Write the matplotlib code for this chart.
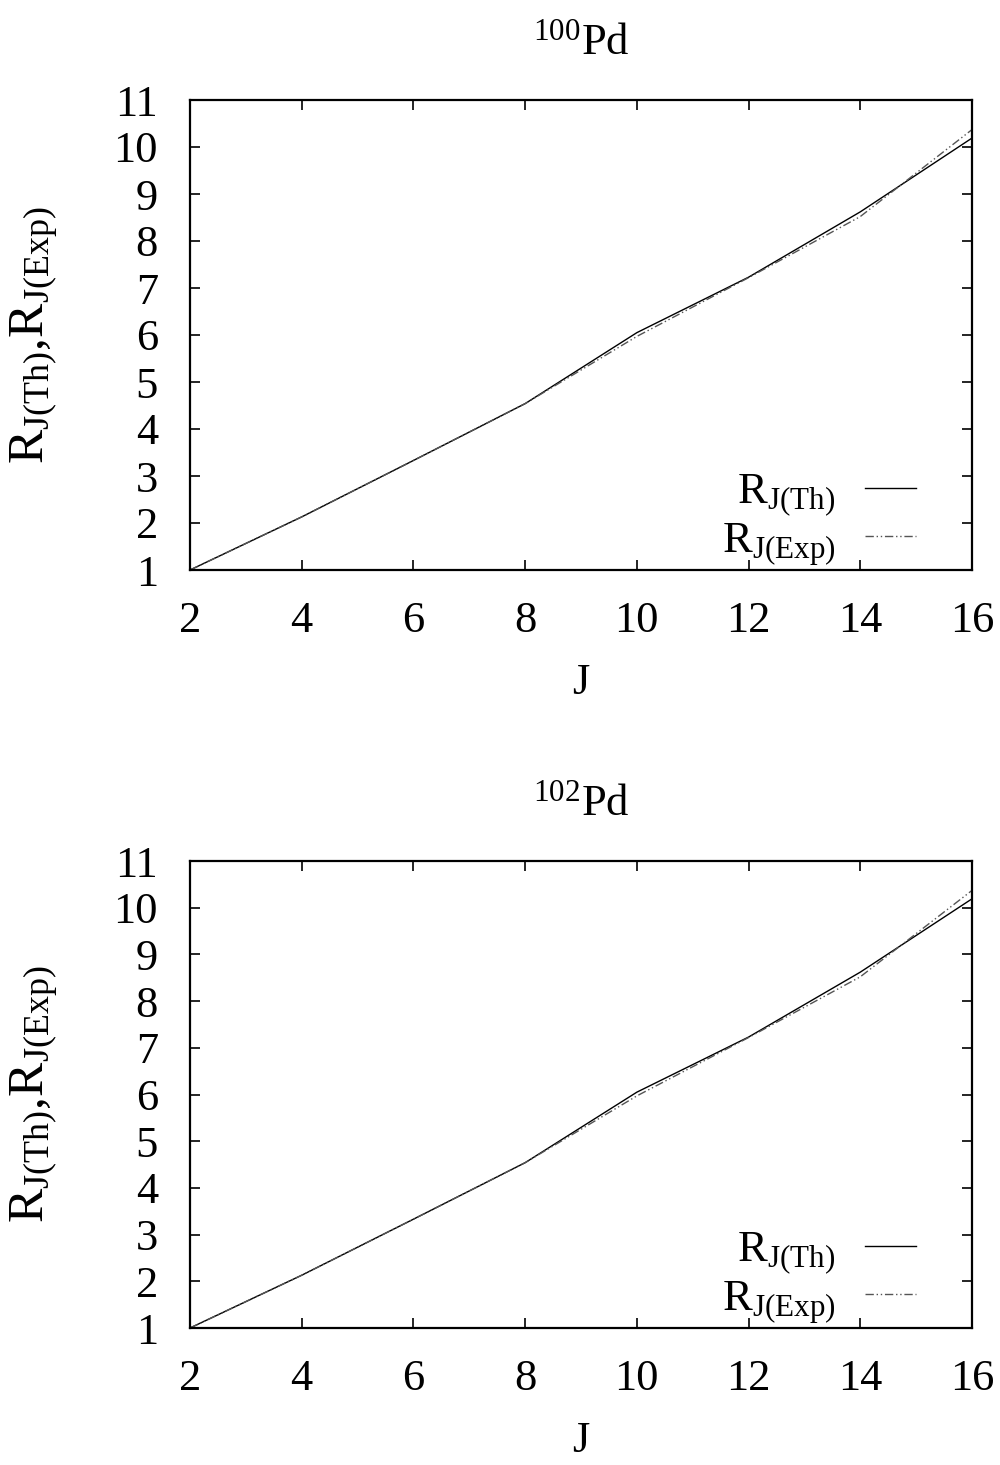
import numpy as np
import matplotlib
matplotlib.use("Agg")
import matplotlib.pyplot as plt

plt.rcParams['font.family'] = ['Liberation Serif', 'DejaVu Serif']
plt.rcParams['mathtext.fontset'] = 'custom'
plt.rcParams['mathtext.rm'] = 'Liberation Serif'
plt.rcParams['mathtext.it'] = 'Liberation Serif'
plt.rcParams['mathtext.bf'] = 'Liberation Serif'

# spin values and energy ratios R_J = E(J)/E(2)
J = [2, 4, 6, 8, 10, 12, 14, 16]
r_th_100 = [1.0, 2.13, 3.33, 4.54, 6.05, 7.23, 8.62, 10.19]
r_exp_100 = [1.0, 2.13, 3.33, 4.54, 5.97, 7.22, 8.52, 10.37]
r_th_102 = [1.0, 2.13, 3.33, 4.54, 6.05, 7.23, 8.62, 10.19]
r_exp_102 = [1.0, 2.13, 3.33, 4.54, 5.97, 7.22, 8.52, 10.37]

titles = [r'$^{100}$Pd', r'$^{102}$Pd']
panels = [(r_th_100, r_exp_100), (r_th_102, r_exp_102)]

fig = plt.figure(figsize=(10, 14.65), dpi=100)
# axes boxes in figure fraction: left, bottom, width, height
boxes = [[0.190, 1 - 570 / 1465, 0.782, 470 / 1465],
         [0.190, 1 - 1328 / 1465, 0.782, 467 / 1465]]

fs = 32
for box, title, (th, ex) in zip(boxes, titles, panels):
    ax = fig.add_axes(box)
    ax.plot(J, th, color='black', lw=1.0, label=r'R$_{\mathrm{J(Th)}}$')
    ax.plot(J, ex, color='#555555', lw=1.0, linestyle=(0, (6, 2, 1, 2, 1, 2)),
            label=r'R$_{\mathrm{J(Exp)}}$')
    ax.set_xlim(2, 16)
    ax.set_ylim(1, 11)
    ax.set_xticks(range(2, 17, 2))
    ax.set_yticks(range(1, 12))
    ax.tick_params(direction='in', length=7, width=1.2, top=True, right=True,
                   labelsize=fs)
    ax.tick_params(axis='x', pad=22)
    ax.tick_params(axis='y', pad=23)
    for s in ax.spines.values():
        s.set_linewidth(1.6)
    ax.set_xlabel('J', fontsize=fs, labelpad=16)
    ax.set_ylabel(r'R$_{\mathrm{J(Th)}}$,R$_{\mathrm{J(Exp)}}$', fontsize=37, labelpad=38)
    ax.set_title(title, fontsize=fs, pad=33)
    ax.legend(loc='lower right', bbox_to_anchor=(0.962, -0.05), frameon=False,
              markerfirst=False, fontsize=fs, handlelength=1.15, handletextpad=0.65,
              labelspacing=0.05, borderaxespad=0.2)

fig.savefig('out.png', dpi=100)
